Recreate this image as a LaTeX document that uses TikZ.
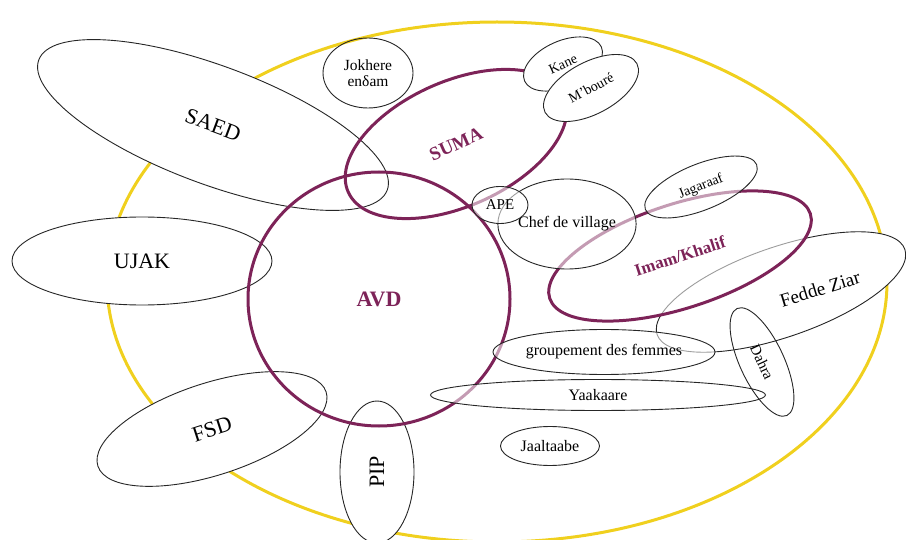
\documentclass[tikz,border=0pt]{standalone}
\usepackage{fontspec}
\setmainfont{Liberation Serif}
\usepackage{xcolor}
\usetikzlibrary{shapes.geometric}
\definecolor{avdpurple}{RGB}{125,35,88}
\definecolor{villageyellow}{RGB}{240,208,30}
\newcommand{\fsz}[1]{\fontsize{#1}{#1}\selectfont}
\tikzset{
  grp/.style={ellipse, draw=black!85, line width=0.9pt, inner sep=0pt},
  opaque/.style={fill=white},
  veil/.style={fill=white, fill opacity=0.55, text opacity=1},
  org/.style={ellipse, draw=avdpurple, line width=3pt, inner sep=0pt, text=avdpurple}
}
\begin{document}
\begin{tikzpicture}[x=1pt,y=-1pt]
\useasboundingbox (0,0) rectangle (906,540);
\node [ellipse, draw=villageyellow, line width=3pt, minimum width=780pt, minimum height=520pt] (village) at (497,282) {};
\node [grp, opaque, minimum width=372pt, minimum height=118pt, rotate=-20.5, font=\fsz{22}] (saed) at (213,125) {SAED};
\node [grp, opaque, minimum width=260pt, minimum height=88pt, font=\fsz{22}] (ujak) at (142,261) {UJAK};
\node [grp, opaque, minimum width=240pt, minimum height=92pt, rotate=18, font=\fsz{22}] (fsd) at (212,429) {FSD};
\node [grp, opaque, minimum width=142pt, minimum height=74pt, rotate=90, font=\fsz{22}] (pip) at (377,472) {PIP};
\node [grp, opaque, minimum width=262pt, minimum height=90pt, rotate=19] (fedde) at (781,292) {};
\node [rotate=17, font=\fsz{19}] (feddelabel) at (820,289) {Fedde Ziar};
\node [org, minimum width=262pt, minimum height=254pt, font=\fsz{22}\bfseries] (avd) at (379,299) {AVD};
\node [org, minimum width=236pt, minimum height=125pt, rotate=24, font=\fsz{19}\bfseries] (suma) at (456,144) {SUMA};
\node [org, veil, minimum width=274pt, minimum height=104pt, rotate=18, font=\fsz{17}\bfseries] (imam) at (680,256) {Imam/Khalif};
\node [grp, minimum width=90pt, minimum height=70pt, align=center, font=\fsz{15.5}] (jokhere) at (368,73) {Jokhere\\enδam};
\node [grp, opaque, minimum width=84pt, minimum height=46pt, rotate=24, font=\fsz{14}] (kane) at (563,64) {Kane};
\node [grp, opaque, minimum width=104pt, minimum height=52pt, rotate=28, font=\fsz{14}] (mboure) at (591,88) {M'bouré};
\node [grp, veil, minimum width=100pt, minimum height=90pt, font=\fsz{16}] (chef) at (567,224) {Chef de village};
\node [grp, veil, minimum width=56pt, minimum height=37pt, font=\fsz{15}] (ape) at (500,205) {APE};
\node [grp, veil, minimum width=120pt, minimum height=46pt, rotate=22, font=\fsz{14}] (jagaraaf) at (701,187) {Jagaraaf};
\node [grp, veil, minimum width=222pt, minimum height=45pt, font=\fsz{16}] (groupement) at (604,352) {groupement des femmes};
\node [grp, veil, minimum width=335pt, minimum height=31pt, font=\fsz{16}] (yaakaare) at (598,395) {Yaakaare};
\node [grp, minimum width=118pt, minimum height=44pt, rotate=-65, font=\fsz{15}] (dahra) at (762,362) {Dahra};
\node [grp, minimum width=99pt, minimum height=39pt, font=\fsz{16}] (jaaltaabe) at (550,446) {Jaaltaabe};
\end{tikzpicture}
\end{document}
